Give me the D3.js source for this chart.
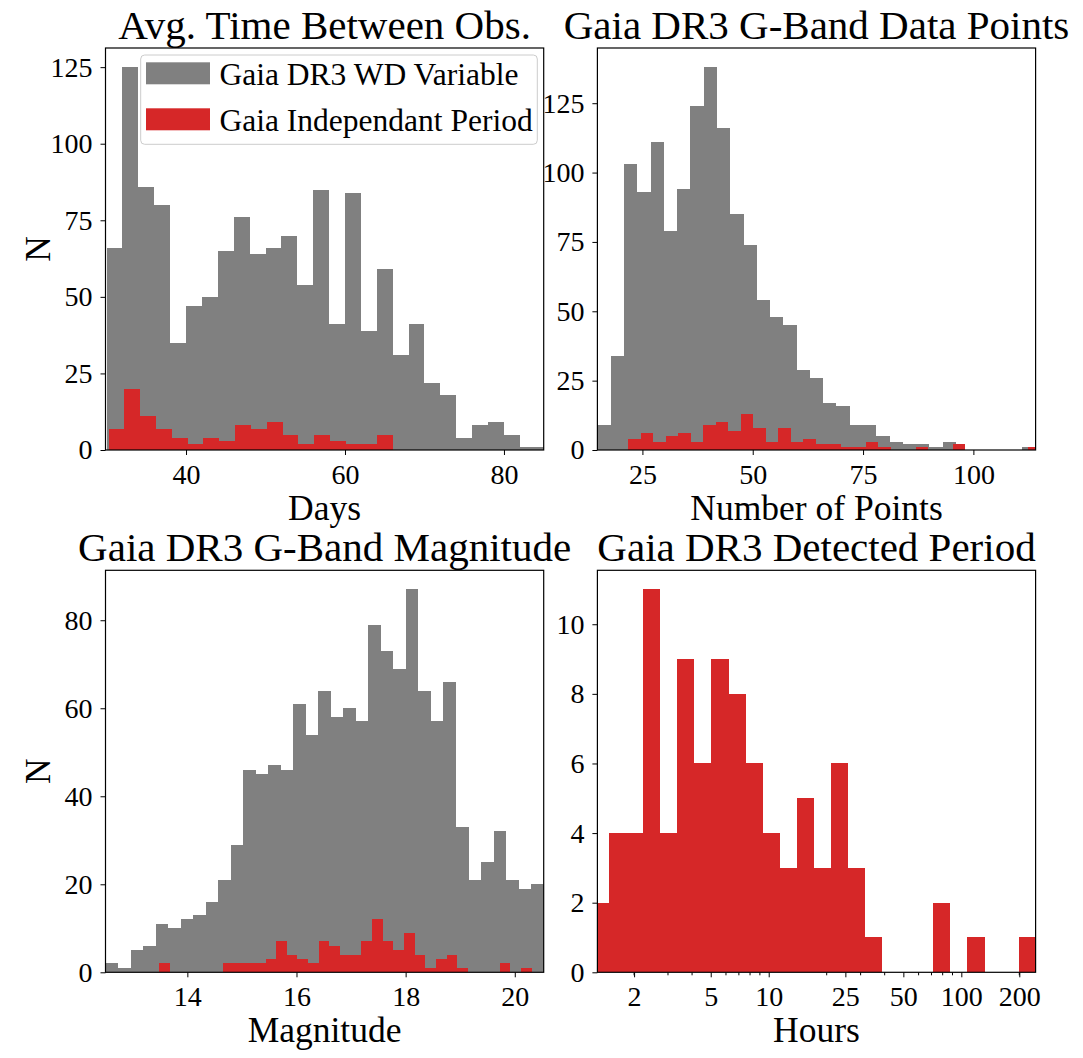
<!DOCTYPE html>
<html>
<head>
<meta charset="utf-8">
<script src="https://cdn.jsdelivr.net/npm/d3@7"></script>
<style>
  body { margin: 0; background: #fff; }
  svg { font-family: "Liberation Serif", "Times New Roman", serif; }
</style>
</head>
<body>
<div id="wrapper"></div>
<script>
// ---- data: histogram counts ----

// Avg. time between observations (days)
const obsGrayStart = 30, obsGrayWidth = 2
const obsGray = [66, 125, 86, 80, 35, 47, 50, 65, 76, 64, 66, 70, 54, 85,
  41, 84, 39, 59, 31, 41, 22, 18, 4, 8, 9, 5, 1, 1]
const obsRedStart = 30.25, obsRedWidth = 1.99
const obsRed = [7, 20, 11, 7, 4, 2, 4, 3, 8, 7, 9, 5, 2, 5, 3, 2, 2, 5]

// Number of G-band points
const ptsGrayStart = 14.8, ptsGrayWidth = 3.01
const ptsGray = [9, 34, 103, 93, 111, 79, 94, 124, 138, 116, 85, 74, 54, 48,
  45, 29, 26, 17, 16, 9, 9, 5, 3, 2, 2, 1, 3, 0, 0, 0, 0, 0, 1]
const ptsRedStart = 21.8, ptsRedWidth = 2.83
const ptsRed = [4, 6, 3, 5, 6, 3, 9, 10, 7, 13, 8, 3, 8, 3, 4, 2, 2, 1, 1, 3,
  1, 0, 0, 1, 0, 0, 2, 0, 0, 0, 0, 0, 1]

// G-band magnitude
const magGrayStart = 12.5, magGrayWidth = 0.2294
const magGray = [2, 1, 5, 6, 11, 10, 12, 13, 16, 21, 29, 46, 45, 47, 46, 61,
  54, 64, 58, 60, 57, 79, 73, 69, 87, 64, 57, 66, 33, 21, 25, 32, 21, 19, 20]
const magRedStart = 13.48, magRedWidth = 0.1952
const magRed = [2, 0, 0, 0, 0, 0, 2, 2, 2, 2, 3, 7, 4, 3, 2, 7, 6, 4, 4, 7,
  12, 7, 5, 9, 4, 1, 3, 4, 1, 0, 0, 0, 2, 0, 1]

// Detected period (hours), log-spaced bins: start exponent and width in decades
const perLogStart = 0.0827, perLogWidth = 0.0886
const perRed = [2, 4, 4, 11, 4, 9, 6, 9, 8, 6, 4, 3, 5, 3, 6, 3, 1, 0, 0, 0,
  2, 0, 1, 0, 0, 1]

// tick values
const obsTicksX = [40, 60, 80]
const obsTicksY = [0, 25, 50, 75, 100, 125]
const ptsTicksX = [25, 50, 75, 100]
const ptsTicksY = [0, 25, 50, 75, 100, 125]
const magTicksX = [14, 16, 18, 20]
const magTicksY = [0, 20, 40, 60, 80]
const perTicksX = [2, 5, 10, 25, 50, 100, 200]
const perMinorX = [2, 3, 4, 6, 7, 8, 9, 20, 30, 40, 60, 70, 80, 90, 200]
const perTicksY = [0, 2, 4, 6, 8, 10]

const legendLabels = ["Gaia DR3 WD Variable", "Gaia Independant Period"]

const GRAY = "#808080"
const RED = "#d62728"

// build bins {x0, x1, n} from counts
const linearBins = (counts, start, width) =>
  counts.map((n, i) => ({ x0: start + i * width, x1: start + (i + 1) * width, n }))
const logBins = (counts, start, width) =>
  counts.map((n, i) => ({
    x0: Math.pow(10, start + i * width),
    x1: Math.pow(10, start + (i + 1) * width),
    n
  }))

// ---- canvas ----
const wrapper = d3.select("#wrapper")
  .append("svg")
    .attr("width", 1083)
    .attr("height", 1058)

const panelW = 438.2
const panelH = 402

function drawPanel(cfg) {
  const bounds = wrapper.append("g")
    .attr("transform", `translate(${cfg.left},${cfg.top})`)

  const xScale = cfg.xScale.range([0, panelW])
  const yScale = d3.scaleLinear()
    .domain(cfg.yDomain)
    .range([panelH, 0])

  const clipId = "clip-" + cfg.id
  bounds.append("clipPath").attr("id", clipId)
    .append("rect")
      .attr("width", panelW)
      .attr("height", panelH)

  const barsGroup = bounds.append("g")
    .attr("clip-path", `url(#${clipId})`)

  cfg.series.forEach(s => {
    barsGroup.append("g")
      .selectAll("rect")
      .data(s.bins.filter(b => b.n > 0))
      .join("rect")
        .attr("x", d => xScale(d.x0))
        .attr("width", d => xScale(d.x1) - xScale(d.x0))
        .attr("y", d => yScale(d.n))
        .attr("height", d => panelH - yScale(d.n))
        .attr("fill", s.color)
        .attr("shape-rendering", "crispEdges")
  })

  // axes
  const xAxisGenerator = d3.axisBottom(xScale)
    .tickValues(cfg.ticksX)
    .tickFormat(d3.format("d"))
    .tickSize(5)
    .tickPadding(9)
  const xAxis = bounds.append("g")
    .attr("transform", `translate(0,${panelH})`)
    .call(xAxisGenerator)

  if (cfg.minorX) {
    xAxis.selectAll(".minor")
      .data(cfg.minorX)
      .join("line")
        .attr("class", "minor")
        .attr("x1", d => xScale(d))
        .attr("x2", d => xScale(d))
        .attr("y1", 0)
        .attr("y2", 3)
        .attr("stroke", "#000")
  }

  const yAxisGenerator = d3.axisLeft(yScale)
    .tickValues(cfg.ticksY)
    .tickFormat(d3.format("d"))
    .tickSize(5)
    .tickPadding(8)
  const yAxis = bounds.append("g").call(yAxisGenerator)

  ;[xAxis, yAxis].forEach(ax => {
    ax.select(".domain").remove()
    ax.attr("font-family", null).attr("font-size", null)
    ax.selectAll("text")
      .attr("font-size", 28)
      .attr("fill", "#000")
    ax.selectAll("line").attr("stroke", "#000").attr("stroke-width", 1)
  })

  bounds.append("rect")
    .attr("width", panelW)
    .attr("height", panelH)
    .attr("fill", "none")
    .attr("stroke", "#000")
    .attr("stroke-width", 1.2)

  bounds.append("text")
    .attr("x", panelW / 2)
    .attr("y", -9)
    .attr("text-anchor", "middle")
    .attr("font-size", 41)
    .text(cfg.title)

  bounds.append("text")
    .attr("x", panelW / 2)
    .attr("y", panelH + 70)
    .attr("text-anchor", "middle")
    .attr("font-size", 35.5)
    .text(cfg.xLabel)

  if (cfg.yLabel) {
    bounds.append("text")
      .attr("transform", `translate(-56,${panelH / 2}) rotate(-90)`)
      .attr("text-anchor", "middle")
      .attr("font-size", 35.5)
      .text(cfg.yLabel)
  }

  return bounds
}

const p1 = drawPanel({
  id: "obs", left: 105.5, top: 48,
  xScale: d3.scaleLinear().domain([29.87, 85]),
  yDomain: [0, 131.25],
  series: [
    { bins: linearBins(obsGray, obsGrayStart, obsGrayWidth), color: GRAY },
    { bins: linearBins(obsRed, obsRedStart, obsRedWidth), color: RED }
  ],
  ticksX: obsTicksX, ticksY: obsTicksY,
  title: "Avg. Time Between Obs.", xLabel: "Days", yLabel: "N"
})

drawPanel({
  id: "pts", left: 597.4, top: 48,
  xScale: d3.scaleLinear().domain([14.8, 114.1]),
  yDomain: [0, 144.9],
  series: [
    { bins: linearBins(ptsGray, ptsGrayStart, ptsGrayWidth), color: GRAY },
    { bins: linearBins(ptsRed, ptsRedStart, ptsRedWidth), color: RED }
  ],
  ticksX: ptsTicksX, ticksY: ptsTicksY,
  title: "Gaia DR3 G-Band Data Points", xLabel: "Number of Points"
})

drawPanel({
  id: "mag", left: 105.5, top: 570.3,
  xScale: d3.scaleLinear().domain([12.5, 20.53]),
  yDomain: [0, 91.35],
  series: [
    { bins: linearBins(magGray, magGrayStart, magGrayWidth), color: GRAY },
    { bins: linearBins(magRed, magRedStart, magRedWidth), color: RED }
  ],
  ticksX: magTicksX, ticksY: magTicksY,
  title: "Gaia DR3 G-Band Magnitude", xLabel: "Magnitude", yLabel: "N"
})

drawPanel({
  id: "per", left: 597.4, top: 570.3,
  xScale: d3.scaleLog().domain([1.29, 243]),
  yDomain: [0, 11.55],
  series: [
    { bins: logBins(perRed, perLogStart, perLogWidth), color: RED }
  ],
  ticksX: perTicksX, minorX: perMinorX, ticksY: perTicksY,
  title: "Gaia DR3 Detected Period", xLabel: "Hours"
})

// legend in first panel
const legend = p1.append("g")
  .attr("transform", "translate(35.2,7)")

legend.append("rect")
  .attr("width", 396.6)
  .attr("height", 89.3)
  .attr("rx", 4)
  .attr("fill", "#fff")
  .attr("fill-opacity", 0.8)
  .attr("stroke", "#cccccc")
  .attr("stroke-width", 1)

const legendItems = legend.selectAll(".legend-item")
  .data(legendLabels)
  .join("g")
    .attr("class", "legend-item")
    .attr("transform", (d, i) => `translate(5.3,${7.3 + i * 46})`)

legendItems.append("rect")
  .attr("width", 64)
  .attr("height", 22)
  .attr("fill", (d, i) => i === 0 ? GRAY : RED)

legendItems.append("text")
  .attr("x", 73.5)
  .attr("y", 22.5)
  .attr("font-size", 31.5)
  .text(d => d)
</script>
</body>
</html>
